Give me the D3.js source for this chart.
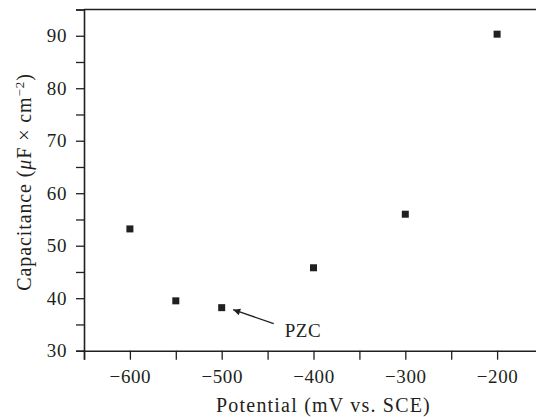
<!DOCTYPE html>
<html>
<head>
<meta charset="utf-8">
<script src="https://cdn.jsdelivr.net/npm/d3@7"></script>
<style>
  body { margin: 0; background: #fff; }
  text { font-family: "Liberation Serif", "DejaVu Serif", serif; fill: #231f20; }
</style>
</head>
<body>
<svg id="chart" width="536" height="417"></svg>
<script>
// data
var potential = [-600, -550, -500, -400, -300, -200];
var capacitance = [53.2, 39.5, 38.2, 45.8, 56.0, 90.3];
var xTickLabels = [-600, -500, -400, -300, -200];
var yTickLabels = [30, 40, 50, 60, 70, 80, 90];
var pzcPoint = [-500, 38.2];

var svg = d3.select("#chart");
var ink = "#231f20";

var plotLeft = 84, plotTop = 9.5, plotBottom = 350.7;
var x = d3.scaleLinear().domain([-650, -150]).range([plotLeft, plotLeft + 459]);
var y = d3.scaleLinear().domain([30, 95]).range([plotBottom, plotTop]);

// x axis, ticks every 50, labels every 100
var xAxis = svg.append("g")
    .attr("transform", "translate(0," + plotBottom + ")")
    .call(d3.axisBottom(x)
        .tickValues(d3.range(-650, -149, 50))
        .tickSize(9)
        .tickFormat(function(d) { return xTickLabels.indexOf(d) >= 0 ? String(d).replace("-", "\u2212") : ""; }));

// y axis, ticks every 5, labels every 10
var yAxis = svg.append("g")
    .attr("transform", "translate(" + plotLeft + ",0)")
    .call(d3.axisLeft(y)
        .tickValues(d3.range(30, 95.1, 5))
        .tickSize(8)
        .tickFormat(function(d) { return yTickLabels.indexOf(d) >= 0 ? d : ""; }));

[xAxis, yAxis].forEach(function(a) {
    a.select(".domain").attr("stroke", ink).attr("stroke-width", 1.6);
    a.selectAll(".tick line").attr("stroke", ink).attr("stroke-width", 1.3);
    a.selectAll(".tick text")
        .attr("font-family", "Liberation Serif, serif")
        .attr("font-size", 19)
        .attr("letter-spacing", 0.6)
        .attr("fill", ink);
});
xAxis.selectAll(".tick text").attr("dy", "0.85em").attr("y", 16);
yAxis.selectAll(".tick text").attr("x", -17);

// top frame line
svg.append("line")
    .attr("x1", plotLeft).attr("x2", x(-150))
    .attr("y1", plotTop).attr("y2", plotTop)
    .attr("stroke", ink).attr("stroke-width", 1.6);

// points
var pts = potential.map(function(p, i) { return {x: p, y: capacitance[i]}; });
svg.append("g").selectAll("rect")
    .data(pts)
    .enter().append("rect")
        .attr("x", function(d) { return x(d.x) - 3.5; })
        .attr("y", function(d) { return y(d.y) - 3.5; })
        .attr("width", 7)
        .attr("height", 7)
        .attr("fill", ink);

// PZC annotation
var defs = svg.append("defs");
defs.append("marker")
    .attr("id", "arrow")
    .attr("viewBox", "0 -5 10 10")
    .attr("refX", 10)
    .attr("refY", 0)
    .attr("markerWidth", 12)
    .attr("markerHeight", 7)
    .attr("markerUnits", "userSpaceOnUse")
    .attr("orient", "auto")
    .append("path")
        .attr("d", "M0,-5L10,0L0,5Z")
        .attr("fill", ink);

svg.append("line")
    .attr("x1", x(pzcPoint[0]) + 52).attr("y1", y(pzcPoint[1]) + 16)
    .attr("x2", x(pzcPoint[0]) + 11.5).attr("y2", y(pzcPoint[1]) + 2)
    .attr("stroke", ink).attr("stroke-width", 1.3)
    .attr("marker-end", "url(#arrow)");

svg.append("text")
    .attr("x", x(pzcPoint[0]) + 63)
    .attr("y", y(pzcPoint[1]) + 29)
    .attr("font-size", 19)
    .attr("letter-spacing", 0.6)
    .text("PZC");

// axis titles
svg.append("text")
    .attr("x", 323.5)
    .attr("y", 412)
    .attr("text-anchor", "middle")
    .attr("font-size", 20)
    .attr("letter-spacing", 1.2)
    .text("Potential (mV vs. SCE)");

var yt = svg.append("text")
    .attr("transform", "translate(31,182) rotate(-90)")
    .attr("text-anchor", "middle")
    .attr("font-size", 20)
    .attr("letter-spacing", 0.9);
yt.append("tspan").text("Capacitance (");
yt.append("tspan").attr("font-style", "italic").text("\u03bc");
yt.append("tspan").text("F \u00d7 cm");
yt.append("tspan").attr("font-size", 13).attr("dy", -7).text("\u22122");
yt.append("tspan").attr("dy", 7).text(")");
</script>
</body>
</html>
